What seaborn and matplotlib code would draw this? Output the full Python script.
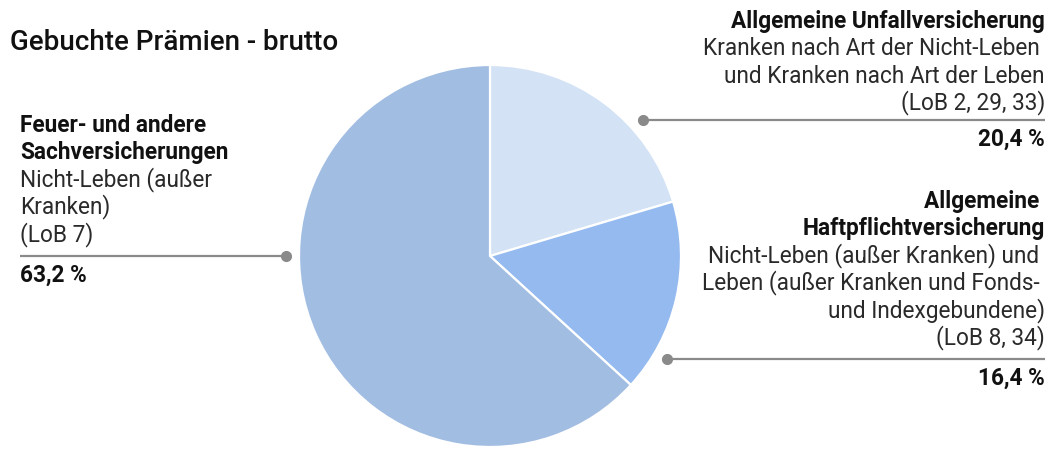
import numpy as np
import matplotlib
matplotlib.use("Agg")
import matplotlib.pyplot as plt
import seaborn as sns

# data
categories = ["Allgemeine Unfallversicherung",
              "Allgemeine Haftpflichtversicherung",
              "Feuer- und andere Sachversicherungen"]
shares = [20.4, 16.4, 63.2]
bold_lines = [["Allgemeine Unfallversicherung"],
              ["Allgemeine ", "Haftpflichtversicherung"],
              ["Feuer- und andere", "Sachversicherungen"]]
detail_lines = [["Kranken nach Art der Nicht-Leben ", "und Kranken nach Art der Leben", "(LoB 2, 29, 33)"],
                ["Nicht-Leben (außer Kranken) und ", "Leben (außer Kranken und Fonds- ", "und Indexgebundene)", "(LoB 8, 34)"],
                ["Nicht-Leben (außer", "Kranken)", "(LoB 7)"]]
title = "Gebuchte Prämien - brutto"

sns.set_theme(style="white")
plt.rcParams["font.family"] = ["Roboto", "DejaVu Sans"]

colors = ["#d3e2f5", "#94baf0", "#a2bde2"]

W, H = 1051, 457
fig = plt.figure(figsize=(W / 100, H / 100), dpi=100)

# pie placed in pixel space
cx, cy, r = 490, 256, 191
ax = fig.add_axes([(cx - r) / W, (H - cy - r) / H, 2 * r / W, 2 * r / H])
ax.pie(shares, colors=colors, startangle=90, counterclock=False,
       wedgeprops=dict(edgecolor="white", linewidth=1.6))
ax.set_xlim(-1, 1)
ax.set_ylim(-1, 1)
ax.set_aspect("equal")
ax.axis("off")

# overlay for labels, in pixels (y down)
ov = fig.add_axes([0, 0, 1, 1], facecolor="none")
ov.set_xlim(0, W)
ov.set_ylim(H, 0)
ov.axis("off")

ov.text(10, 50, title, fontsize=20, fontweight="medium", color="#111111", va="baseline", ha="left")

fs = 16.3
step = 27.3
# label layout: (text x, align, first baseline, leader y, line x end, side)
layout = [(1045, "right", 28, 120, 1045, 1),
          (1045, "right", 208, 359, 1045, 1),
          (20, "left", 132, 256, 20, -1)]

for i, (tx, ha, y0, ly, lx_end, side) in enumerate(layout):
    y = y0
    for t in bold_lines[i]:
        ov.text(tx, y, t, fontsize=fs, fontweight="bold", color="#111111", ha=ha, va="baseline")
        y += step
    for t in detail_lines[i]:
        ov.text(tx, y, t, fontsize=fs, color="#2a2a2a", ha=ha, va="baseline")
        y += step
    # leader line + dot on a ring just outside the pie
    dy = cy - ly
    rd = r * 1.07
    dx = np.sqrt(max(rd ** 2 - dy ** 2, 0))
    dot_x = cx + side * dx
    ov.plot([dot_x, lx_end], [ly, ly], color="#8a8a8a", lw=1.6, solid_capstyle="butt")
    ov.plot([dot_x], [ly], "o", color="#8a8a8a", ms=7)
    pct = f"{shares[i]:.1f} %".replace(".", ",")
    ov.text(tx, ly + 26, pct, fontsize=fs, fontweight="bold", color="#111111", ha=ha, va="baseline")

fig.savefig("out.png", dpi=100)
